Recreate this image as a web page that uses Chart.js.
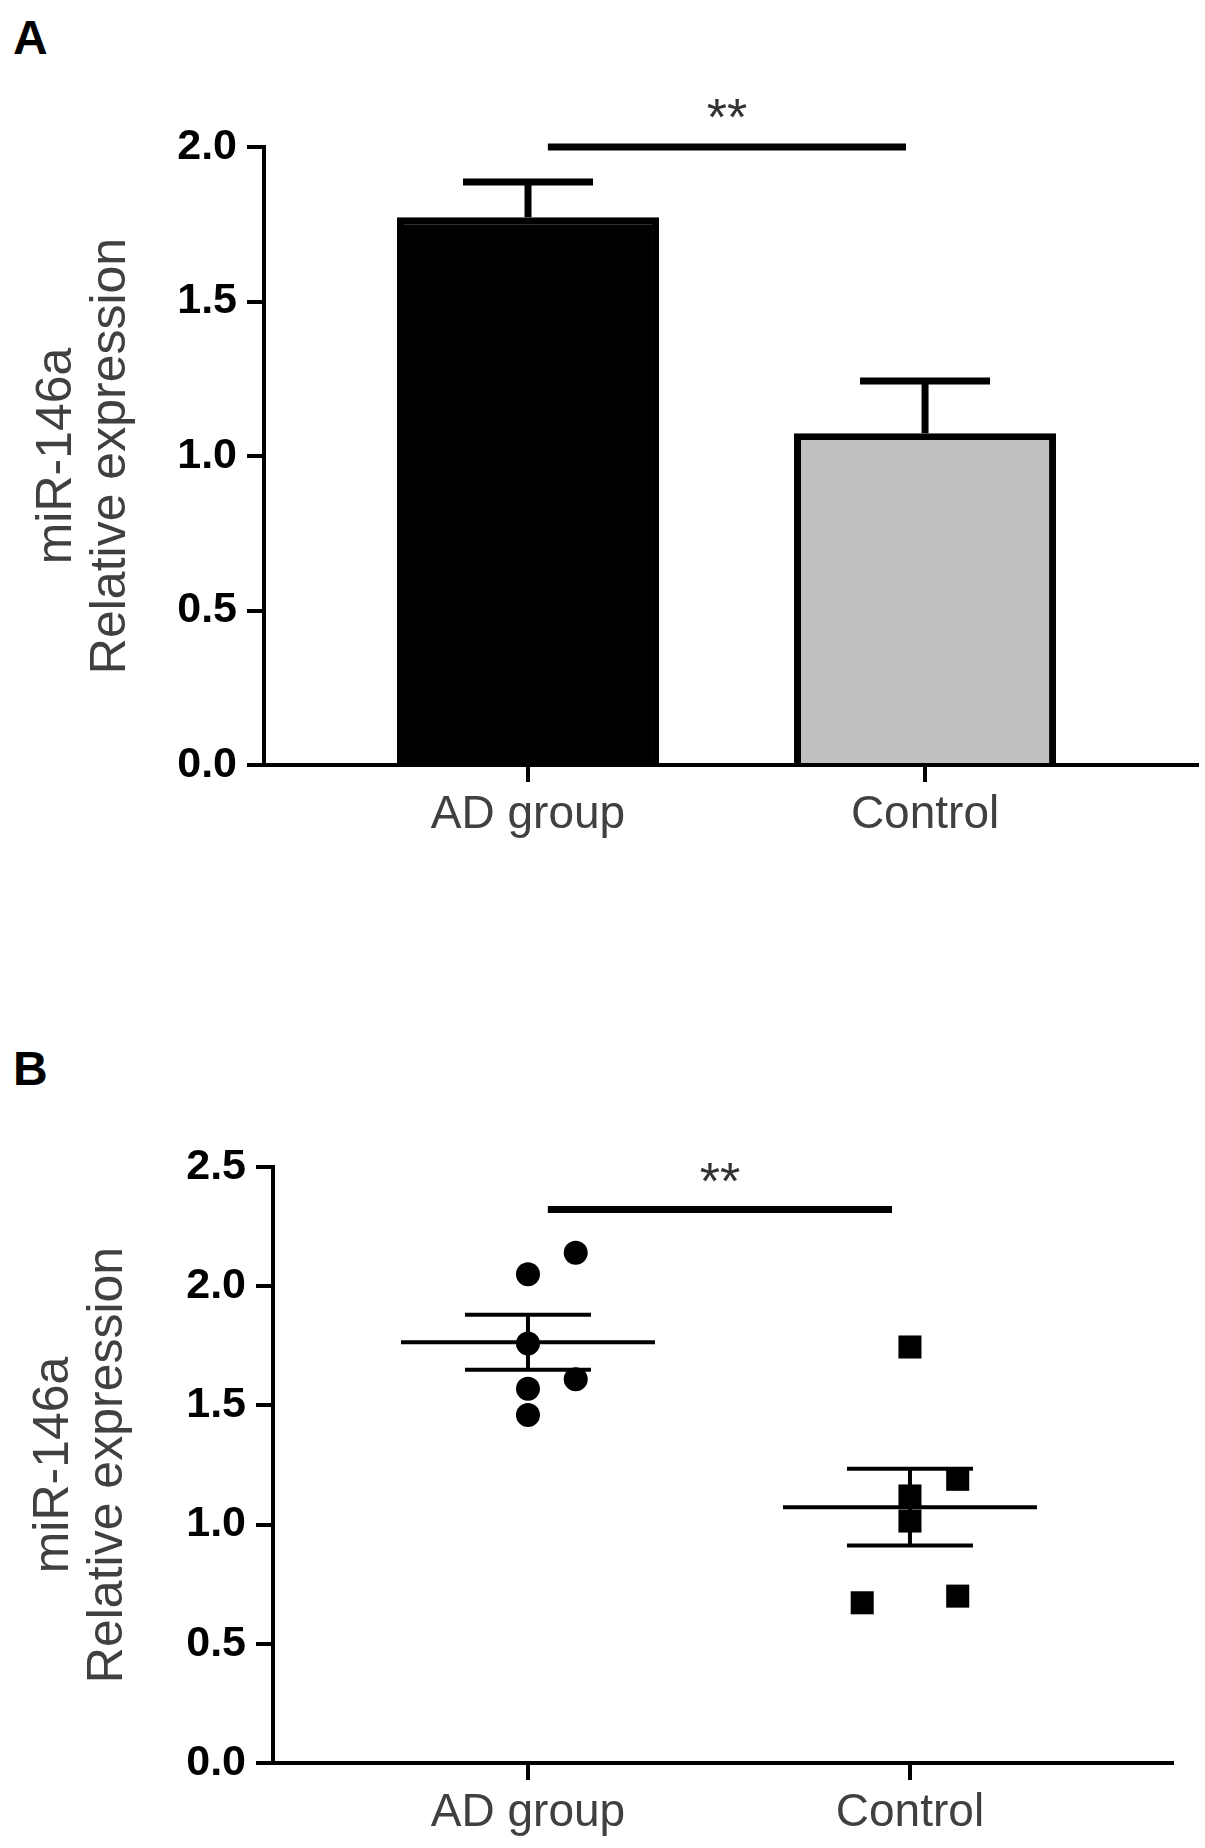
<!DOCTYPE html>
<html>
<head>
<meta charset="utf-8">
<script src="https://cdn.jsdelivr.net/npm/chart.js@4/dist/chart.umd.min.js"></script>
<style>
  body { margin: 0; background: #fff; }
  .page { position: relative; width: 1205px; height: 1848px; overflow: hidden; background: #fff; }
  .tag { position: absolute; left: 13px; font: bold 48px/48px "Liberation Sans", Arial, sans-serif; color: #000; }
  .box { position: absolute; left: 0; width: 1205px; }
</style>
</head>
<body>
<div class="page">
  <div class="tag" style="top:14px">A</div>
  <div class="tag" style="top:1045px">B</div>
  <div class="box" style="top:0;height:880px"><canvas id="chartA"></canvas></div>
  <div class="box" style="top:900px;height:948px"><canvas id="chartB"></canvas></div>
</div>
<script>
const categories = ["AD group", "Control"];

// panel A: bar means with SEM
const barMeans = [1.773, 1.074];
const barSem = [0.114, 0.169];

// panel B: individual samples, x jitter
const adValues = [2.14, 2.05, 1.76, 1.61, 1.57, 1.46];
const adJitter = [0.125, 0, 0, 0.125, 0, 0];
const ctrlValues = [1.745, 1.19, 1.12, 1.015, 0.672, 0.70];
const ctrlJitter = [0, 0.125, 0, 0, -0.125, 0.125];
const dotMeans = [1.765, 1.073];
const dotSem = [0.115, 0.161];

const yTicksA = [0, 0.5, 1.0, 1.5, 2.0];
const yTicksB = [0, 0.5, 1.0, 1.5, 2.0, 2.5];

const FONT = '"Liberation Sans", Arial, sans-serif';
const GREY = "#404040";
Chart.defaults.font.family = FONT;
Chart.defaults.color = "#000";

// error bars drawn through the chart's own scales
function errorBars(means, sems, opts) {
  return {
    id: "errorBars",
    afterDatasetsDraw(chart) {
      const { ctx, scales: { x, y } } = chart;
      ctx.save();
      ctx.strokeStyle = "#000";
      ctx.lineWidth = opts.width;
      ctx.lineCap = "butt";
      means.forEach((m, i) => {
        const px = x.getPixelForValue(i);
        const top = y.getPixelForValue(m + sems[i]);
        const mid = y.getPixelForValue(m);
        const low = opts.both ? y.getPixelForValue(m - sems[i]) : mid;
        ctx.beginPath();
        ctx.moveTo(px, low); ctx.lineTo(px, top);
        ctx.moveTo(px - opts.cap, top); ctx.lineTo(px + opts.cap, top);
        if (opts.both) {
          ctx.moveTo(px - opts.cap, low); ctx.lineTo(px + opts.cap, low);
        }
        if (opts.meanLine) {
          ctx.moveTo(px - opts.meanLine, mid); ctx.lineTo(px + opts.meanLine, mid);
        }
        ctx.stroke();
      });
      ctx.restore();
    }
  };
}

function sigBar(from, to, level, gap) {
  return {
    id: "sigBar",
    afterDatasetsDraw(chart) {
      const { ctx, scales: { x, y } } = chart;
      const x1 = x.getPixelForValue(from), x2 = x.getPixelForValue(to);
      const yy = y.getPixelForValue(level);
      ctx.save();
      ctx.strokeStyle = "#000";
      ctx.lineWidth = 7;
      ctx.beginPath(); ctx.moveTo(x1, yy); ctx.lineTo(x2, yy); ctx.stroke();
      ctx.fillStyle = "#333";
      ctx.font = "52px " + FONT;
      ctx.textAlign = "center";
      ctx.textBaseline = "alphabetic";
      ctx.fillText("**", (x1 + x2) / 2, yy - gap);
      ctx.restore();
    }
  };
}

function xAxis(min, max, height) {
  return {
    type: "linear", min: min, max: max, offset: false,
    afterBuildTicks: s => { s.ticks = categories.map((c, i) => ({ value: i })); },
    afterFit: s => { s.height = height; },
    grid: { offset: false, drawOnChartArea: false, drawTicks: true, tickLength: 17, lineWidth: 4, tickWidth: 4, tickColor: "#000" },
    border: { display: true, width: 4, color: "#000" },
    ticks: { autoSkip: false, maxRotation: 0, padding: 6, color: GREY, font: { size: 46 }, callback: v => categories[v] }
  };
}

function yAxis(max, ticksList, width, titlePad) {
  return {
    type: "linear", min: 0, max: max,
    afterBuildTicks: s => { s.ticks = ticksList.map(v => ({ value: v })); },
    afterFit: s => { s.width = width; },
    grid: { drawOnChartArea: false, drawTicks: true, tickLength: 17, lineWidth: 4, tickWidth: 4, tickColor: "#000" },
    border: { display: true, width: 4, color: "#000" },
    ticks: { padding: 10, color: "#000", font: { size: 43, weight: "bold" }, callback: v => v.toFixed(1) },
    title: {
      display: true, text: ["miR-146a", "Relative expression"], color: GREY,
      font: { size: 50, lineHeight: 1.08 }, padding: { top: titlePad, bottom: 0 }
    }
  };
}

new Chart(document.getElementById("chartA"), {
  type: "bar",
  data: {
    datasets: [{
      data: categories.map((c, i) => ({ x: i, y: barMeans[i] })),
      backgroundColor: ["#000000", "#c0c0c0"],
      borderColor: "#000",
      borderWidth: 7,
      categoryPercentage: 1,
      barPercentage: 0.66
    }]
  },
  options: {
    responsive: true, maintainAspectRatio: false, animation: false, events: [],
    layout: { padding: { top: 147, right: 8, bottom: 0, left: 0 } },
    scales: { x: xAxis(-0.665, 1.685, 115), y: yAxis(2.0, yTicksA, 264, 30) },
    plugins: { legend: { display: false }, tooltip: { enabled: false } }
  },
  plugins: [errorBars(barMeans, barSem, { width: 7, cap: 65, both: false }), sigBar(0.05, 0.952, 2.0, 12)]
});

new Chart(document.getElementById("chartB"), {
  type: "scatter",
  data: {
    datasets: [{
      data: adValues.map((v, i) => ({ x: 0 + adJitter[i], y: v })),
      pointStyle: "circle", radius: 12, backgroundColor: "#000", borderWidth: 0
    }, {
      data: ctrlValues.map((v, i) => ({ x: 1 + ctrlJitter[i], y: v })),
      pointStyle: "rect", radius: 16.3, backgroundColor: "#000", borderWidth: 0
    }]
  },
  options: {
    responsive: true, maintainAspectRatio: false, animation: false, events: [],
    layout: { padding: { top: 267, right: 33, bottom: 0, left: 0 } },
    scales: { x: xAxis(-0.6675, 1.686, 85), y: yAxis(2.5, yTicksB, 273, 27) },
    plugins: { legend: { display: false }, tooltip: { enabled: false } }
  },
  plugins: [errorBars(dotMeans, dotSem, { width: 4, cap: 63, both: true, meanLine: 127 }), sigBar(0.052, 0.953, 2.322, 10)]
});
</script>
</body>
</html>
